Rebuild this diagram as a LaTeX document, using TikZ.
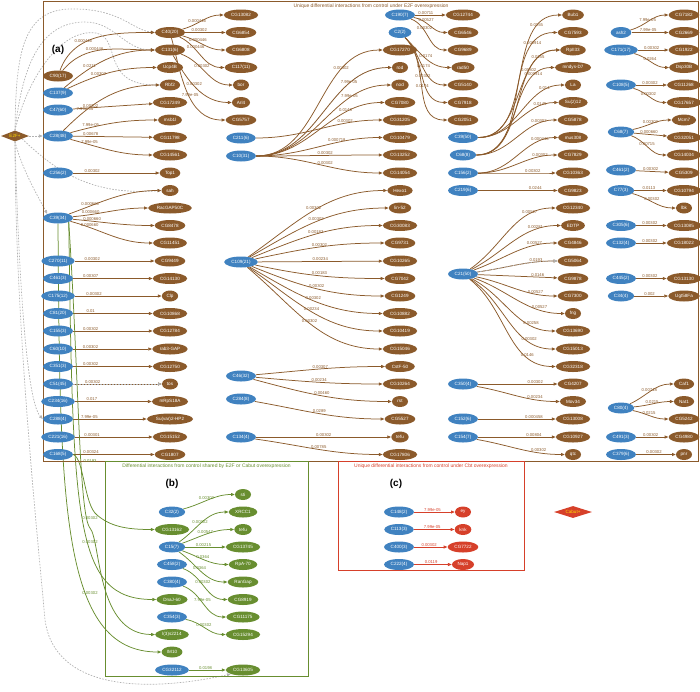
\documentclass[tikz,border=0pt]{standalone}
\usepackage{fontspec}
\setmainfont{Liberation Sans}
\usetikzlibrary{shapes.geometric,arrows.meta}
\definecolor{brn}{RGB}{139,90,43}
\definecolor{blu}{RGB}{64,130,192}
\definecolor{grn}{RGB}{104,142,48}
\definecolor{redc}{RGB}{214,64,42}
\definecolor{yel}{RGB}{255,222,0}
\definecolor{dgr}{RGB}{178,178,178}
\newcommand\nf{\fontsize{4.6}{5.2}\selectfont}
\newcommand\lf{\fontsize{4.2}{4.7}\selectfont}
\newcommand\tf{\fontsize{5}{6}\selectfont}
\newcommand\E[5]{\draw[eb] (#1) to[#5] node[lab,pos=#4]{#3} (#2);}
\pgfdeclarelayer{bg}
\pgfsetlayers{bg,main}
\tikzset{
 nd/.style={ellipse, inner xsep=2.3pt, inner ysep=0.8pt, minimum height=11pt, minimum width=16pt, text=white, font=\nf},
 bn/.style={nd, fill=brn},
 bl/.style={nd, fill=blu},
 gn/.style={nd, fill=grn},
 rn/.style={nd, fill=redc},
 eb/.style={draw=brn, line width=0.75pt, -{Triangle[length=3.8pt,width=3pt]}},
 lab/.style={font=\lf, text=brn, inner sep=0.4pt, above},
 dsh/.style={draw=dgr, line width=0.7pt, dash pattern=on 1.6pt off 1.4pt, -{Triangle[length=3.8pt,width=3pt]}},
 ge/.style={draw=grn, line width=0.75pt, -{Triangle[length=3.8pt,width=3pt]}},
 glab/.style={font=\lf, text=grn, inner sep=0.4pt},
}
\begin{document}
\begin{tikzpicture}[x=1pt,y=1pt]
\useasboundingbox (0,0) rectangle (700,-691);
% ---------- frames and titles
\draw[brn, line width=0.9pt] (43,-1.2) rectangle (698.3,-461);
\draw[grn, line width=0.9pt] (105,-461) rectangle (308,-676);
\draw[redc, line width=0.9pt] (338,-461) rectangle (524,-570);
\node[font=\tf, text=brn] (ta) at (371,-6) {Unique differential interactions from control under E2F overexpression};
\node[font=\tf, text=grn] (tb) at (206.5,-466.5) {Differential interactions from control shared by E2F or Cabut overexpression};
\node[font=\tf, text=redc] (tc) at (431,-466.5) {Unique differential interactions from control under Cbt overexpression};
\node[font=\fontsize{10}{11}\selectfont\bfseries] (la) at (58,-50) {(a)};
\node[font=\fontsize{10}{11}\selectfont\bfseries] (lb) at (172,-484) {(b)};
\node[font=\fontsize{10}{11}\selectfont\bfseries] (lc) at (396,-484) {(c)};
% ---------- diamonds
\node[diamond, fill=brn, minimum width=28pt, minimum height=11pt, aspect=2.5, inner sep=0pt, text=yel, font=\nf] (e2f) at (15,-136) {E2F+};
\node[diamond, fill=redc, minimum width=38pt, minimum height=12pt, aspect=3.2, inner sep=0pt, text=yel, font=\nf] (cab) at (573,-512) {Cabut+};
% ---------- column x=58
\node[bn] (c90) at (58,-76) {C90(17)};
\node[bl] (c137) at (58,-93) {C137(9)};
\node[bl] (c47) at (58,-110) {C47(60)};
\node[bl] (c28) at (58,-136) {C28(48)};
\node[bl] (c256) at (58,-173) {C256(2)};
\node[bl] (c39) at (58,-218) {C39(34)};
\node[bl] (c270) at (58,-261) {C270(11)};
\node[bl] (c461) at (58,-278.5) {C461(3)};
\node[bl] (c175) at (58,-296) {C175(12)};
\node[bl] (c81) at (58,-313.5) {C81(20)};
\node[bl] (c155) at (58,-331) {C155(3)};
\node[bl] (c60) at (58,-349) {C60(10)};
\node[bl] (c351) at (58,-366.5) {C351(3)};
\node[bl] (c51) at (58,-384) {C51(45)};
\node[bl] (c234) at (58,-401.5) {C234(16)};
\node[bl] (c288) at (58,-419) {C288(4)};
\node[bl] (c221) at (58,-437) {C221(16)};
\node[bl] (c168) at (58,-454.5) {C168(5)};
% ---------- column x=170
\node[bn] (c40) at (170,-32.5) {C40(20)};
\node[bn] (c131) at (170,-50) {C131(6)};
\node[bn] (ucp) at (170,-67.5) {Ucp4B};
\node[bn] (rbf) at (170,-85) {Rbf2};
\node[bn] (cg17249) at (170,-102.5) {CG17249};
\node[bn] (msb) at (170,-120) {msb1l};
\node[bn] (cg11798) at (170,-137.5) {CG11798};
\node[bn] (cg14561) at (170,-155) {CG14561};
\node[bn] (top1) at (170,-173) {Top1};
\node[bn] (sah) at (170,-190.5) {sah};
\node[bn] (racgap) at (170,-208) {RacGAP50C};
\node[bn] (cg8478) at (170,-225.5) {CG8478};
\node[bn] (cg11451) at (170,-243) {CG11451};
\node[bn] (cg9449) at (170,-261) {CG9449};
\node[bn] (cg14130) at (170,-278.5) {CG14130};
\node[bn] (clp) at (170,-296) {Clp};
\node[bn] (cg10868) at (170,-313.5) {CG10868};
\node[bn] (cg12784) at (170,-331) {CG12784};
\node[bn] (rab3) at (170,-349) {rab3-GAP};
\node[bn] (cg12750) at (170,-366.5) {CG12750};
\node[bn] (tos) at (170,-384) {tos};
\node[bn] (eif) at (170,-401.5) {mRpS18A};
\node[bn] (suvar) at (170,-419) {Su(var)2-HP2};
\node[bn] (cg15152) at (170,-437) {CG15152};
\node[bn] (cg1807) at (170,-454.5) {CG1807};
% ---------- column x=241
\node[bn] (cg13082) at (241,-15) {CG13082};
\node[bn] (cg6854) at (241,-32.5) {CG6854};
\node[bn] (cg6808) at (241,-50) {CG6808};
\node[bn] (c117) at (241,-67.5) {C117(11)};
\node[bn] (bor) at (241,-85) {bor};
\node[bn] (atf4) at (241,-102.5) {Arl4};
\node[bn] (cg5757) at (241,-120) {CG5757};
\node[bl] (c211) at (241,-138) {C211(6)};
\node[bl] (c10) at (241,-156) {C10(31)};
\node[bl] (c109) at (241,-262) {C109(21)};
\node[bl] (c46) at (241,-376) {C46(32)};
\node[bl] (c284) at (241,-399) {C284(8)};
\node[bl] (c134) at (241,-437) {C134(4)};
% ---------- column x=400
\node[bl] (c190) at (400,-15) {C190(7)};
\node[bl] (c2) at (400,-32.5) {C2(2)};
\node[bn] (cg17270) at (400,-50) {CG17270};
\node[bn] (rod) at (400,-67.5) {rod};
\node[bn] (rol) at (400,-85) {nod};
\node[bn] (cg7080) at (400,-102.5) {CG7080};
\node[bn] (cg31205) at (400,-120) {CG31205};
\node[bn] (cg10479) at (400,-137.5) {CG10479};
\node[bn] (cg13252) at (400,-155) {CG13252};
\node[bn] (cg14054) at (400,-173) {CG14054};
\node[bn] (hesr) at (400,-190.5) {Hexo1};
\node[bn] (lin52) at (400,-208) {lin-52};
\node[bn] (cg30083) at (400,-225.5) {CG30083};
\node[bn] (cg9731) at (400,-243) {CG9731};
\node[bn] (cg10265) at (400,-261) {CG10265};
\node[bn] (cg7042) at (400,-278.5) {CG7042};
\node[bn] (cg1249) at (400,-296) {CG1249};
\node[bn] (cg10882) at (400,-313.5) {CG10882};
\node[bn] (cg10419) at (400,-331) {CG10419};
\node[bn] (cg15046) at (400,-349) {CG15046};
\node[bn] (cstf) at (400,-366.5) {CstF-50};
\node[bn] (cg10264) at (400,-384) {CG10264};
\node[bn] (ns) at (400,-401.5) {rst};
\node[bn] (cg5527) at (400,-419) {CG5527};
\node[bn] (tolkl) at (400,-437) {tefu};
\node[bn] (cg17806) at (400,-454.5) {CG17806};
% ---------- column x=463
\node[bn] (cg12744) at (463,-15) {CG12744};
\node[bn] (cg6546) at (463,-32.5) {CG6546};
\node[bn] (cg9689) at (463,-50) {CG9689};
\node[bn] (rad50) at (463,-67.5) {rad50};
\node[bn] (cg5140) at (463,-85) {CG5140};
\node[bn] (cg7918) at (463,-102.5) {CG7918};
\node[bn] (cg2051) at (463,-120) {CG2051};
\node[bl] (c39b) at (463,-137.5) {C39(50)};
\node[bl] (c68) at (463,-155) {C68(8)};
\node[bl] (c156) at (463,-173) {C156(2)};
\node[bl] (c219) at (463,-190.5) {C219(6)};
\node[bl] (c21) at (463,-274) {C21(50)};
\node[bl] (c350) at (463,-384) {C350(4)};
\node[bl] (c152) at (463,-419) {C152(6)};
\node[bl] (c154) at (463,-437) {C154(7)};
% ---------- column x=573
\node[bn] (bub1) at (573,-15) {Bub1};
\node[bn] (cg7593) at (573,-32.5) {CG7593};
\node[bn] (rpii) at (573,-50) {RpII33};
\node[bn] (mndys) at (573,-67.5) {mndys-D7};
\node[bn] (la) at (573,-85) {La};
\node[bn] (suz) at (573,-102.5) {Su(z)12};
\node[bn] (cg5878) at (573,-120) {CG5878};
\node[bn] (mus308) at (573,-137.5) {mus308};
\node[bn] (cg7829) at (573,-155) {CG7829};
\node[bn] (cg10363) at (573,-173) {CG10363};
\node[bn] (cg9823) at (573,-190.5) {CG9823};
\node[bn] (cg12340) at (573,-208) {CG12340};
\node[bn] (edtp) at (573,-225.5) {EDTP};
\node[bn] (cg4846) at (573,-243) {CG4846};
\node[bn] (cg5064) at (573,-261) {CG5064};
\node[bn] (cg9878) at (573,-278.5) {CG9878};
\node[bn] (cg7300) at (573,-296) {CG7300};
\node[bn] (fng) at (573,-313.5) {fng};
\node[bn] (cg13690) at (573,-331) {CG13690};
\node[bn] (cg15013) at (573,-349) {CG15013};
\node[bn] (cg32318) at (573,-366.5) {CG32318};
\node[bn] (cg4207) at (573,-384) {CG4207};
\node[bn] (mov) at (573,-401.5) {Mov34};
\node[bn] (cg13008) at (573,-419) {CG13008};
\node[bn] (cg10927) at (573,-437) {CG10927};
\node[bn] (qtc) at (573,-454.5) {qtc};
% ---------- column x=621
\node[bl] (ash2) at (621,-32.5) {ash2};
\node[bl] (c171) at (621,-50) {C171(17)};
\node[bl] (c108) at (621,-85) {C108(5)};
\node[bl] (c68b) at (621,-132) {C68(7)};
\node[bl] (c461b) at (621,-170) {C461(2)};
\node[bl] (c77) at (621,-190.5) {C77(3)};
\node[bl] (c305) at (621,-225.5) {C305(6)};
\node[bl] (c132) at (621,-243) {C132(4)};
\node[bl] (c445) at (621,-278.5) {C445(2)};
\node[bl] (c34) at (621,-296) {C34(4)};
\node[bl] (c80) at (621,-408) {C80(4)};
\node[bl] (c491) at (621,-437) {C491(3)};
\node[bl] (c379) at (621,-454.5) {C379(6)};
% ---------- column x=684
\node[bn] (cg7182) at (684,-15) {CG7182};
\node[bn] (cg2669) at (684,-32.5) {CG2669};
\node[bn] (cg1922) at (684,-50) {CG1922};
\node[bn] (dsp) at (684,-67.5) {Dsp30B};
\node[bn] (cg11268) at (684,-85) {CG11268};
\node[bn] (cg17657) at (684,-102.5) {CG17657};
\node[bn] (mcm7) at (684,-120) {Mcm7};
\node[bn] (cg32051) at (684,-137.5) {CG32051};
\node[bn] (cg14034) at (684,-155) {CG14034};
\node[bn] (cg5309) at (684,-173) {CG5309};
\node[bn] (cg10794) at (684,-190.5) {CG10794};
\node[bn] (lbk) at (684,-208) {lbk};
\node[bn] (cg13085) at (684,-225.5) {CG13085};
\node[bn] (cg18022) at (684,-243) {CG18022};
\node[bn] (cg13130) at (684,-278.5) {CG13130};
\node[bn] (ugt) at (684,-296) {Ugt58Fa};
\node[bn] (caf1) at (684,-384) {Caf1};
\node[bn] (nat1) at (684,-401.5) {Nat1};
\node[bn] (cg5242) at (684,-419) {CG5242};
\node[bn] (cg4980) at (684,-437) {CG4980};
\node[bn] (pnr) at (684,-454.5) {pnr};
% ---------- panel (b)
\node[bl] (c32) at (172,-512) {C32(2)};
\node[gn] (cg13162) at (172,-529.5) {CG13162};
\node[bl] (c15) at (172,-547) {C15(7)};
\node[bl] (c458) at (172,-564.5) {C458(2)};
\node[bl] (c380) at (172,-582) {C380(4)};
\node[gn] (dnaj) at (172,-599.5) {DnaJ-60};
\node[bl] (c354) at (172,-617) {C354(3)};
\node[gn] (l3) at (172,-634.5) {l(3)s2214};
\node[gn] (im10) at (172,-652) {IM10};
\node[bl] (cg32112) at (172,-670) {CG32112};
\node[gn] (sti) at (243,-494.5) {sti};
\node[gn] (xrcc1) at (243,-512) {XRCC1};
\node[gn] (tefu) at (243,-529.5) {tefu};
\node[gn] (cg13745) at (243,-547) {CG13745};
\node[gn] (rpa) at (243,-564.5) {RpA-70};
\node[gn] (rangap) at (243,-582) {RanGap};
\node[gn] (cg8919) at (243,-599.5) {CG8919};
\node[gn] (cg11175) at (243,-617) {CG11175};
\node[gn] (cg15294) at (243,-634.5) {CG15294};
\node[gn] (cg13605) at (243,-670) {CG13605};
% ---------- panel (c)
\node[bl] (c148) at (399,-512) {C148(2)};
\node[bl] (c113) at (399,-529.5) {C113(3)};
\node[bl] (c400) at (399,-547) {C400(3)};
\node[bl] (c222) at (399,-564.5) {C222(4)};
\node[rn] (ey) at (463,-512) {ey};
\node[rn] (knk) at (463,-529.5) {knk};
\node[rn] (cg7722) at (463,-547) {CG7722};
\node[rn] (nap1) at (463,-564.5) {Nap1};
% green labels
\node[glab] (g1) at (90,-461) {0.0193};
\node[glab] (g2) at (90,-518) {0.00302};
\node[glab] (g3) at (90,-542) {0.00302};
\node[glab] (g4) at (90,-593) {0.00302};
% ================= edges
\begin{pgfonlayer}{bg}
% dashed gray from E2F+
\draw[dsh] (e2f) -- (c28);
\draw[dsh] (e2f.north) .. controls (16,-60) and (20,-10) .. (70,-9) .. controls (120,-8) and (132,-30) .. (c40.west);
\draw[dsh] (e2f.north) .. controls (22,-70) and (38,-22) .. (85,-22) .. controls (115,-22) and (124,-50) .. (c131.west);
\draw[dsh] (e2f.north) .. controls (27,-80) and (60,-28) .. (96,-33) .. controls (122,-38) and (100,-85) .. (rbf.west);
\draw[dsh] (e2f.south) .. controls (22,-170) and (40,-200) .. (c39.north west);
\draw[dsh] (e2f.south east) .. controls (55,-170) and (90,-196) .. (sah.west);
\draw[dsh] (e2f.south) .. controls (18,-250) and (25,-400) .. (c288.west);
\draw[dsh] (e2f.south) .. controls (15,-330) and (40,-560) .. (45,-620) .. controls (55,-692) and (150,-692) .. (cg13605.south west);
\draw[dsh] (c10) to[out=0,in=180] (rod);
% top-left
\E{c90}{c40}{0.000446}{0.35}{out=70,in=180}
\E{c90}{c131}{0.000446}{0.4}{out=50,in=180}
\E{c137}{c131}{0.0211}{0.3}{out=40,in=180}
\E{c137}{ucp}{0.00302}{0.35}{out=25,in=180}
\E{c47}{cg17249}{0.00302}{0.22}{}
\E{c28}{rbf}{7.99e-05}{0.25}{out=45,in=180}
\E{c28}{msb}{7.99e-05}{0.22}{out=15,in=180}
\E{c28}{cg11798}{0.00678}{0.22}{}
\E{c28}{cg14561}{7.99e-05}{0.22}{out=-15,in=180}
\E{c256}{top1}{0.00302}{0.22}{}
\E{c39}{sah}{0.000660}{0.22}{out=20,in=180}
\E{c39}{racgap}{0.000660}{0.22}{out=5,in=180}
\E{c39}{cg8478}{0.000660}{0.22}{out=-5,in=180}
\E{c39}{cg11451}{0.000660}{0.22}{out=-15,in=180}
\E{c270}{cg9449}{0.00302}{0.22}{}
\E{c461}{cg14130}{0.00307}{0.22}{}
\E{c175}{clp}{0.00302}{0.22}{}
\E{c81}{cg10868}{0.01}{0.22}{}
\E{c155}{cg12784}{0.00302}{0.22}{}
\E{c60}{rab3}{0.00302}{0.22}{}
\E{c351}{cg12750}{0.00302}{0.22}{}
\E{c51}{tos}{0.00302}{0.22}{}
\draw[dsh] (c51) -- (tos);
\E{c234}{eif}{0.017}{0.22}{}
\E{c288}{suvar}{7.99e-05}{0.22}{}
\E{c221}{cg15152}{0.00301}{0.22}{}
\E{c168}{cg1807}{0.00324}{0.22}{}
% column 170 -> 241
\E{c40}{cg13082}{0.000446}{0.35}{out=15,in=180}
\E{c40}{cg6854}{0.00302}{0.35}{}
\E{c40}{cg6808}{0.000446}{0.35}{out=-15,in=180}
\E{c40}{c117}{0.000446}{0.35}{out=-25,in=180}
\E{c131}{bor}{0.00302}{0.4}{out=-20,in=180}
\E{c131}{atf4}{0.00302}{0.45}{out=-60,in=180}
\E{c40}{cg5757}{7.99e-05}{0.55}{out=-75,in=180}
% C10 / C211 bundle
\E{c10}{cg17270}{0.00302}{0.72}{out=0,in=180}
\E{c10}{rod}{7.99e-05}{0.72}{out=0,in=180}
\E{c10}{rol}{7.99e-05}{0.72}{out=0,in=180}
\E{c10}{cg7080}{0.0143}{0.72}{out=0,in=180}
\E{c211}{cg31205}{0.00302}{0.72}{out=0,in=180}
\E{c10}{cg10479}{0.000718}{0.65}{out=0,in=180}
\E{c10}{cg13252}{0.00302}{0.55}{out=0,in=180}
\E{c10}{cg14054}{0.00302}{0.55}{out=0,in=180}
% C109 fan
\E{c109}{hesr}{0.00302}{0.5}{out=35,in=180}
\E{c109}{lin52}{0.00302}{0.5}{out=30,in=180}
\E{c109}{cg30083}{0.00183}{0.5}{out=22,in=180}
\E{c109}{cg9731}{0.00302}{0.5}{out=12,in=180}
\E{c109}{cg10265}{0.00234}{0.5}{}
\E{c109}{cg7042}{0.00183}{0.5}{out=-12,in=180}
\E{c109}{cg1249}{0.00302}{0.5}{out=-22,in=180}
\E{c109}{cg10882}{0.00302}{0.5}{out=-30,in=180}
\E{c109}{cg10419}{0.00234}{0.5}{out=-35,in=180}
\E{c109}{cg15046}{0.00302}{0.5}{out=-40,in=180}
\E{c46}{cstf}{0.00307}{0.5}{out=5,in=180}
\E{c46}{cg10264}{0.00234}{0.5}{out=-5,in=180}
\E{c46}{ns}{0.00460}{0.5}{out=-15,in=180}
\E{c284}{cg5527}{0.0289}{0.5}{out=-10,in=180}
\E{c134}{tolkl}{0.00302}{0.5}{}
\E{c134}{cg17806}{0.00785}{0.5}{out=-8,in=180}
% C190 / C2
\E{c190}{cg12744}{0.00711}{0.35}{}
\E{c190}{cg6546}{0.00527}{0.35}{out=-10,in=180}
\E{c190}{cg9689}{0.00302}{0.35}{out=-20,in=180}
\E{c2}{rad50}{0.0174}{0.5}{out=-45,in=180}
\E{c2}{cg5140}{0.0174}{0.5}{out=-45,in=180}
\E{c2}{cg7918}{0.00302}{0.5}{out=-45,in=180}
\E{c2}{cg2051}{0.0174}{0.5}{out=-45,in=180}
% 463 -> 573 bundle
\E{c39b}{bub1}{0.0155}{0.8}{out=0,in=180}
\E{c68}{cg7593}{0.000914}{0.8}{out=0,in=180}
\E{c39b}{rpii}{0.0155}{0.8}{out=0,in=180}
\E{c68}{rpii}{0.00302}{0.7}{out=0,in=180}
\E{c68}{mndys}{0.000914}{0.8}{out=0,in=180}
\E{c39b}{la}{0.014}{0.8}{out=0,in=180}
\E{c39b}{suz}{0.0145}{0.8}{out=0,in=180}
\E{c68}{cg5878}{0.00302}{0.8}{out=0,in=180}
\E{c156}{mus308}{0.000446}{0.8}{out=0,in=180}
\E{c156}{cg7829}{0.00302}{0.8}{out=0,in=180}
\E{c156}{cg10363}{0.00302}{0.72}{out=0,in=180}
\E{c219}{cg9823}{0.0244}{0.72}{}
% C21 fan
\E{c21}{cg12340}{0.00527}{0.75}{out=35,in=180}
\E{c21}{edtp}{0.00281}{0.75}{out=28,in=180}
\E{c21}{cg4846}{0.00527}{0.75}{out=20,in=180}
\E{c21}{cg5064}{0.0193}{0.75}{out=8,in=180}
\draw[dsh] (c21) to[out=8,in=180] (cg5064);
\E{c21}{cg9878}{0.0146}{0.75}{}
\E{c21}{cg7300}{0.00527}{0.75}{out=-12,in=180}
\E{c21}{fng}{0.00527}{0.75}{out=-20,in=180}
\E{c21}{cg13690}{0.00258}{0.75}{out=-28,in=180}
\E{c21}{cg15013}{0.00302}{0.75}{out=-34,in=180}
\E{c21}{cg32318}{0.0146}{0.75}{out=-38,in=180}
\E{c350}{cg4207}{0.00302}{0.72}{}
\E{c350}{mov}{0.00234}{0.72}{out=-10,in=180}
\E{c152}{cg13008}{0.000458}{0.72}{}
\E{c154}{cg10927}{0.00804}{0.72}{}
\E{c154}{qtc}{0.00302}{0.72}{out=-10,in=180}
% right column
\E{ash2}{cg7182}{7.99e-05}{0.45}{out=15,in=180}
\E{ash2}{cg2669}{7.99e-05}{0.45}{}
\E{c171}{cg1922}{0.00302}{0.45}{}
\E{c171}{dsp}{0.0264}{0.45}{out=-15,in=180}
\E{c108}{cg11268}{0.00302}{0.45}{}
\E{c108}{cg17657}{0.00302}{0.45}{out=-15,in=180}
\E{c68b}{mcm7}{0.00302}{0.45}{out=12,in=180}
\E{c68b}{cg32051}{0.000660}{0.45}{}
\E{c68b}{cg14034}{0.00715}{0.45}{out=-20,in=180}
\E{c461b}{cg5309}{0.00302}{0.45}{}
\E{c77}{cg10794}{0.0113}{0.45}{}
\E{c77}{lbk}{0.00302}{0.45}{out=-15,in=180}
\E{c305}{cg13085}{0.00302}{0.45}{}
\E{c132}{cg18022}{0.00302}{0.45}{}
\E{c445}{cg13130}{0.00302}{0.45}{}
\E{c34}{ugt}{0.002}{0.45}{}
\E{c80}{caf1}{0.00748}{0.45}{out=25,in=180}
\E{c80}{nat1}{0.0215}{0.45}{out=5,in=180}
\E{c80}{cg5242}{0.0215}{0.45}{out=-12,in=180}
\E{c491}{cg4980}{0.00302}{0.45}{}
\E{c379}{pnr}{0.00302}{0.45}{}
% green edges from (a) into (b)
\draw[ge] (c168.east) .. controls (84,-458) and (84,-505) .. (97,-515) .. controls (110,-526) and (125,-529.5) .. (cg13162.west);
\draw[ge] (c39.south) .. controls (60,-500) and (60,-652) .. (im10.west);
\draw[ge] (c39.south east) .. controls (73,-520) and (74,-599.5) .. (dnaj.west);
\draw[ge] (c39.south east) .. controls (79,-380) and (79,-515) .. (90,-528) .. controls (101,-541) and (96,-634.5) .. (l3.west);
% panel (b)
\begin{scope}[eb/.style={draw=grn, line width=0.75pt, -{Triangle[length=3.8pt,width=3pt]}}, lab/.style={font=\lf, text=grn, inner sep=0.4pt, above}]
\E{c32}{sti}{0.00302}{0.45}{out=15,in=180}
\E{c15}{xrcc1}{0.00302}{0.45}{out=35,in=180}
\E{c15}{tefu}{0.00547}{0.45}{out=20,in=180}
\E{c15}{cg13745}{0.00215}{0.45}{}
\E{c15}{rpa}{0.0364}{0.45}{out=-20,in=180}
\E{c15}{rangap}{0.0364}{0.45}{out=-35,in=180}
\E{c458}{cg8919}{0.00302}{0.45}{out=-20,in=180}
\E{c380}{cg11175}{7.99e-05}{0.45}{out=-20,in=180}
\E{c354}{cg15294}{0.00302}{0.45}{out=-10,in=180}
\E{cg32112}{cg13605}{0.0198}{0.45}{}
\end{scope}
% panel (c)
\begin{scope}[eb/.style={draw=redc, line width=0.75pt, -{Triangle[length=3.8pt,width=3pt]}}, lab/.style={font=\lf, text=redc, inner sep=0.4pt, above}]
\E{c148}{ey}{7.99e-05}{0.45}{}
\E{c113}{knk}{7.99e-05}{0.45}{}
\E{c400}{cg7722}{0.00302}{0.45}{}
\E{c222}{nap1}{0.0119}{0.45}{}
\end{scope}
\end{pgfonlayer}
\end{tikzpicture}
\end{document}
